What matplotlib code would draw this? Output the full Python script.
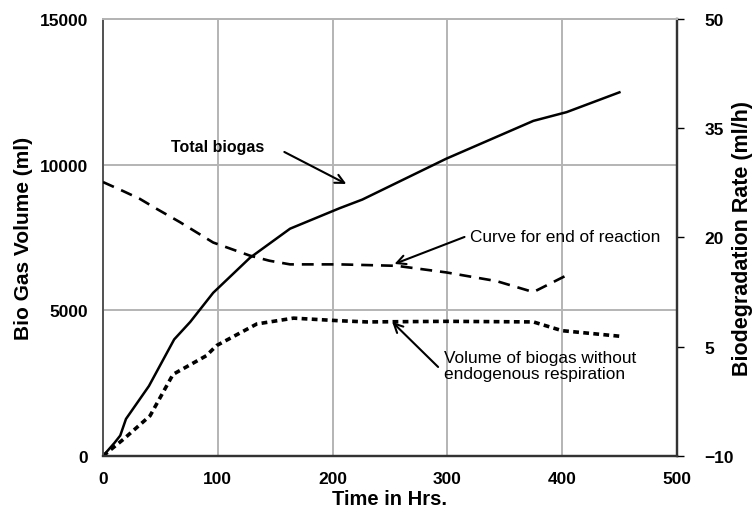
import matplotlib
matplotlib.use('Agg')
import matplotlib.pyplot as plt

plt.rcParams['font.family'] = ['Liberation Sans', 'DejaVu Sans']

# Total biogas (ml) vs time (h)
total_t = [0, 10, 15, 20, 40, 62, 76, 96, 128, 163, 206, 226, 299, 375, 404, 450]
total_vol = [0, 450, 700, 1270, 2400, 4000, 4600, 5600, 6800, 7800, 8500, 8800, 10200, 11500, 11800, 12480]

# Curve for end of reaction (biodegradation rate, ml/h)
end_t = [0, 17, 32, 47, 67, 96, 128, 145, 163, 206, 256, 299, 343, 375, 404]
end_rate = [27.6, 26.4, 25.3, 23.9, 22.1, 19.3, 17.5, 16.8, 16.3, 16.3, 16.1, 15.2, 14.0, 12.5, 14.8]

# Volume of biogas without endogenous respiration (ml)
noend_t = [0, 18, 41, 61, 90, 99, 134, 166, 206, 230, 300, 375, 400, 450]
noend_vol = [0, 580, 1380, 2800, 3440, 3790, 4530, 4730, 4640, 4600, 4620, 4600, 4300, 4110]

fig = plt.figure(figsize=(7.52, 5.10), dpi=100)
ax = fig.add_axes([0.137, 0.104, 0.763, 0.857])
ax2 = ax.twinx()

grid_c = '#b4b4b4'
ax.set_xlim(0, 500)
ax.set_ylim(0, 15000)
ax2.set_ylim(-10, 50)
ax.set_xticks([0, 100, 200, 300, 400, 500])
ax.set_yticks([0, 5000, 10000, 15000])
ax2.set_yticks([-10, 5, 20, 35, 50])
ax.grid(True, color=grid_c, linewidth=1.4)
ax.set_axisbelow(True)

ax.plot(total_t, total_vol, color='black', linewidth=1.8, zorder=3)
ax.plot(noend_t, noend_vol, color='black', linewidth=2.6, linestyle=(0, (1.6, 1.2)), zorder=3)
ax2.plot(end_t, end_rate, color='black', linewidth=1.9, linestyle=(0, (4.5, 3)), zorder=3)

for a in (ax, ax2):
    a.spines['top'].set_color(grid_c)
    a.spines['top'].set_linewidth(1.4)
    a.spines['left'].set_color('#555555')
    a.spines['left'].set_linewidth(1.4)
    a.spines['bottom'].set_color('#333333')
    a.spines['bottom'].set_linewidth(1.6)
    a.spines['right'].set_color('#333333')
    a.spines['right'].set_linewidth(1.6)

ax.tick_params(axis='x', length=0, labelsize=12.5, pad=11)
ax.tick_params(axis='y', length=0, labelsize=12.5, pad=10.5)
ax2.tick_params(axis='y', length=5, width=1, labelsize=12.5, pad=15)
for lab in ax.get_xticklabels() + ax.get_yticklabels() + ax2.get_yticklabels():
    lab.set_fontweight('bold')

ax.set_xlabel('Time in Hrs.', fontsize=14.5, fontweight='bold', labelpad=2)
ax.set_ylabel('Bio Gas Volume (ml)', fontsize=15, fontweight='bold')
ax2.set_ylabel('Biodegradation Rate (ml/h)', fontsize=15.5, fontweight='bold')
ax.yaxis.set_label_coords(-0.122, 0.5)
ax2.yaxis.set_label_coords(1.096, 0.5)

arrow = dict(arrowstyle='->', color='black', lw=1.5, mutation_scale=16, shrinkA=0, shrinkB=0)
ax.annotate('Total biogas', xy=(212, 9335), xytext=(100, 10605), fontsize=11.5,
            fontweight='bold', ha='center', va='center')
ax.annotate('', xy=(212, 9335), xytext=(158, 10433), arrowprops=arrow)

ax.annotate('Curve for end of reaction', xy=(320, 7516), fontsize=12.4, ha='left', va='center')
ax.annotate('', xy=(254, 6590), xytext=(315, 7516), arrowprops=arrow)

ax.annotate('Volume of biogas without\nendogenous respiration', xy=(297, 3106),
            fontsize=12.4, ha='left', va='center', linespacing=1.15)
ax.annotate('', xy=(252, 4600), xytext=(292, 3054), arrowprops=arrow)

fig.savefig('out.png', dpi=100)
